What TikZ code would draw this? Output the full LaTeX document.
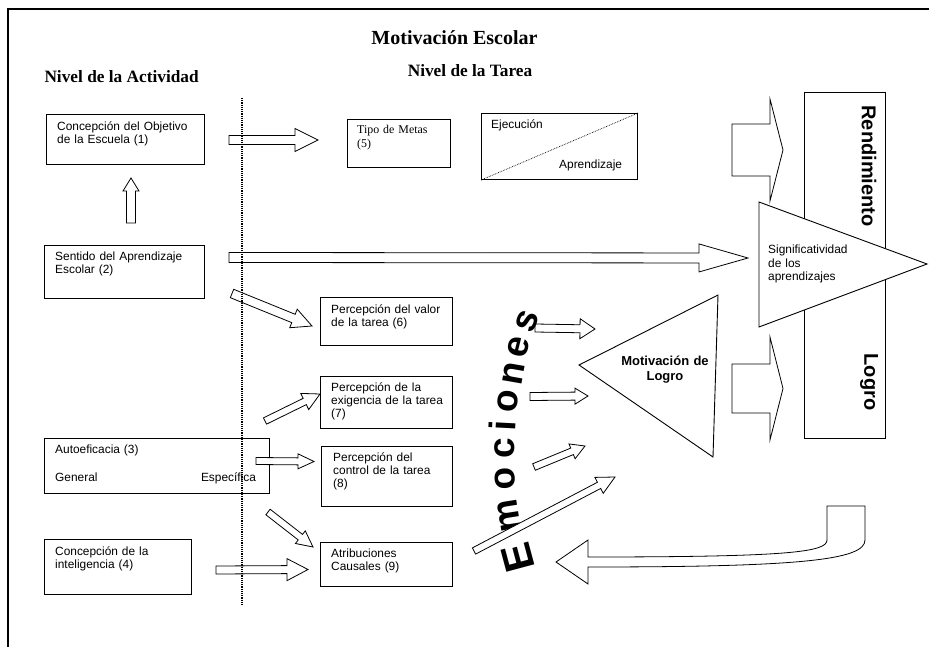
\documentclass[tikz,border=0pt]{standalone}
\usepackage{fontspec}
\setmainfont{Liberation Sans}
\newfontfamily\timesf{Liberation Serif}
\usetikzlibrary{positioning}
\usetikzlibrary{calc}
\newcommand\boxfont{\fontsize{11.9}{13.4}\selectfont}
\tikzset{
    box/.style = {rectangle, draw, line width=1.1pt, anchor=north west, inner sep=0pt},
    txt/.style = {anchor=base west, inner sep=0pt, font=\boxfont, text width=#1, align=left},
    txt/.default = 150pt,
    hollow/.style = {draw, fill=white, line width=0.8pt, line join=miter},
    tri/.style = {draw, fill=white, line width=0.9pt}}
\newcommand\barrow[5]{%
    \coordinate (hb) at ($(#2)!#5!(#1)$);
    \draw[hollow] ($(#1)!#3!90:(#2)$) -- ($(hb)!#3!90:(#2)$) -- ($(hb)!#4!90:(#2)$) -- (#2)
        -- ($(hb)!#4!-90:(#2)$) -- ($(hb)!#3!-90:(#2)$) -- ($(#1)!#3!-90:(#2)$) -- cycle;}
\begin{document}
\begin{tikzpicture}[x=1pt, y=-1pt,
    head/.style = {font=\timesf\bfseries\fontsize{17.3}{20}\selectfont, inner sep=0pt},
    big/.style = {font=\bfseries\fontsize{20}{24}\selectfont, rotate=-90, inner sep=0pt},
    emo/.style = {inner sep=0pt, anchor=base}]
    \useasboundingbox (0,0) rectangle (929,647);
    \draw[line width=1.5pt] (8,647) -- (8,9) -- (929,9);

    \node[inner sep=0pt, anchor=base, font=\timesf\bfseries\fontsize{20}{24}\selectfont] (Tit) at (454.5,44.3) {Motivación Escolar};
    \node[head, anchor=base west] (NA) at (44.3,82.3) {Nivel de la Actividad};
    \node[head, anchor=base] (NT) at (470,76.7) {Nivel de la Tarea};

    \node[box, minimum width=158, minimum height=50] (Obj) at (46,114) {};
    \node[txt] (ObjT) at ($(Obj.north west)+(11,16.5)$) {Concepción del Objetivo\\de la Escuela (1)};
    \node[box, minimum width=160, minimum height=53] (Sen) at (44,245) {};
    \node[txt] (SenT) at ($(Sen.north west)+(11,15.5)$) {Sentido del Aprendizaje\\Escolar (2)};
    \node[box, minimum width=225, minimum height=55] (Aut) at (44,438) {};
    \node[txt] (AutT) at ($(Aut.north west)+(11,15)$) {Autoeficacia (3)};
    \node[txt] (Gen) at ($(Aut.north west)+(11,43)$) {General};
    \node[inner sep=0pt, anchor=base east, font=\boxfont] (Esp) at ($(Aut.north east)+(-14,43)$) {Específica};
    \node[box, minimum width=147, minimum height=55] (Int) at (44,539) {};
    \node[txt] (IntT) at ($(Int.north west)+(11,16)$) {Concepción de la\\inteligencia (4)};

    \node[box, minimum width=103, minimum height=48] (Met) at (347,119) {};
    \node[txt, font=\timesf\boxfont] (MetT) at ($(Met.north west)+(10,15)$) {Tipo de Metas\\(5)};
    \node[box, minimum width=156, minimum height=66] (EA) at (481,113) {};
    \draw[densely dotted, line width=0.7pt] (EA.south west) -- (EA.north east);
    \node[txt] (Eje) at ($(EA.north west)+(10,16)$) {Ejecución};
    \node[txt] (Apr) at ($(EA.north west)+(78,55.5)$) {Aprendizaje};

    \node[box, minimum width=132, minimum height=48] (Val) at (320,297) {};
    \node[txt] (ValT) at ($(Val.north west)+(11,16)$) {Percepción del valor\\de la tarea (6)};
    \node[box, minimum width=132, minimum height=52] (Exi) at (320,376) {};
    \node[txt] (ExiT) at ($(Exi.north west)+(11,15)$) {Percepción de la\\exigencia de la tarea\\(7)};
    \node[box, minimum width=131, minimum height=60] (Con) at (321,446) {};
    \node[txt] (ConT) at ($(Con.north west)+(12,15)$) {Percepción del\\control de la tarea\\(8)};
    \node[box, minimum width=132, minimum height=44] (Atr) at (320,542) {};
    \node[txt] (AtrT) at ($(Atr.north west)+(11,15.5)$) {Atribuciones\\Causales (9)};

    \node[box, minimum width=81, minimum height=346] (Ren) at (804,92) {};
    \node[big] (RenT) at (869,166) {Rendimiento};
    \node[big] (Log) at (869,382) {Logro};

    \coordinate (r1) at (732,150);   \coordinate (r2) at (783,150);
    \coordinate (l1) at (732,388.5); \coordinate (l2) at (783,388.5);
    \barrow{r1}{r2}{26pt}{51pt}{13pt}
    \barrow{l1}{l2}{24.5pt}{51.5pt}{13pt}

    \coordinate (S1) at (759,202); \coordinate (S2) at (759,327); \coordinate (S3) at (927,264);
    \draw[tri] (S1) -- (S3) -- (S2) -- cycle;
    \node[txt] (Sig) at (768,254) {Significatividad\\de los\\aprendizajes};

    \coordinate (M1) at (579,365); \coordinate (M2) at (718,295); \coordinate (M3) at (713,457);
    \draw[tri] (M1) -- (M2) -- (M3) -- cycle;
    \node[inner sep=0pt, anchor=base, text width=100pt, align=center,
        font=\bfseries\fontsize{13}{15}\selectfont] (Mot) at (665,365.5) {Motivación de\\Logro};

    \coordinate (a1) at (229,140);   \coordinate (b1) at (318,140);
    \coordinate (a2) at (131,223);   \coordinate (b2) at (131,178);
    \coordinate (a3) at (229,257.5); \coordinate (b3) at (748,258);
    \coordinate (a4) at (232,293.5); \coordinate (b4) at (312,326);
    \coordinate (a5) at (265,421);   \coordinate (b5) at (320,394);
    \coordinate (a6) at (256,461);   \coordinate (b6) at (314,461.5);
    \coordinate (a7) at (268,512);   \coordinate (b7) at (313,547);
    \coordinate (a8) at (216,570);   \coordinate (b8) at (308,569.5);
    \barrow{a1}{b1}{4.5pt}{11.5pt}{23pt}
    \barrow{a2}{b2}{4.5pt}{8pt}{13pt}
    \barrow{a3}{b3}{5pt}{14pt}{49pt}
    \barrow{a4}{b4}{4.5pt}{10pt}{20pt}
    \barrow{a5}{b5}{3.5pt}{9pt}{17pt}
    \barrow{a6}{b6}{3.5pt}{7.5pt}{16pt}
    \barrow{a7}{b7}{3.5pt}{8pt}{16pt}
    \barrow{a8}{b8}{4pt}{11pt}{21pt}

    \coordinate (c1) at (535,328); \coordinate (d1) at (595,329);
    \coordinate (c2) at (530,396.5); \coordinate (d2) at (588,396);
    \coordinate (c3) at (534,467); \coordinate (d3) at (585,446);
    \coordinate (c4) at (474,551); \coordinate (d4) at (615,477);
    \barrow{c1}{d1}{4pt}{10pt}{15pt}
    \barrow{c2}{d2}{4pt}{8pt}{13pt}
    \barrow{c3}{d3}{3.5pt}{8pt}{14pt}

    \foreach \ch/\px/\py/\ang/\fs [count=\i] in {E/532/554/105/42, m/519/514/99/37, o/515/478/93/37,
        c/514/448/90/37, i/516/426/87/37, o/518/402/84/37, n/523/375/80/37, e/528/350/76/37, s/536/325/68/37}
        \node[emo, rotate=\ang, font=\bfseries\fontsize{\fs}{\fs}\selectfont] (e\i) at (\px,\py) {\ch};

    \barrow{c4}{d4}{3.5pt}{9pt}{18pt}

    \draw[hollow] (827,506) -- (865,506) -- (865,540) .. controls (865,560) and (800,567) .. (588,567)
        -- (588,584) -- (556,562) -- (588,540) -- (588,557)
        .. controls (790,557) and (827,552) .. (827,540) -- cycle;

    \coordinate (v1) at (242,98); \coordinate (v2) at (242,605);
    \draw[densely dotted, line width=1.2pt] (v1) -- (v2);
\end{tikzpicture}
\end{document}
